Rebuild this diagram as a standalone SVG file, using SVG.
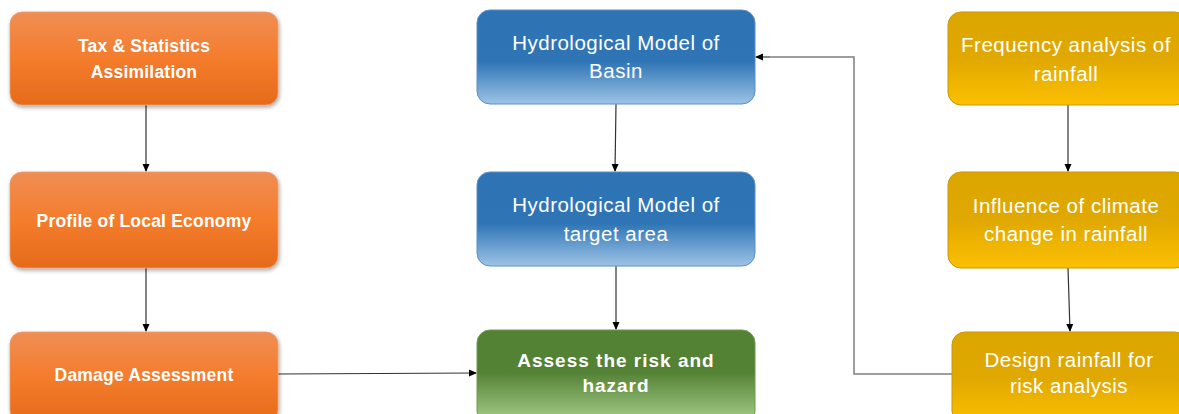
<svg xmlns="http://www.w3.org/2000/svg" width="1179" height="414" viewBox="0 0 1179 414">
<defs>
<linearGradient id="gOrange" x1="0" y1="0" x2="0" y2="1">
<stop offset="0" stop-color="#F08E55"/>
<stop offset="0.5" stop-color="#F47C2C"/>
<stop offset="1" stop-color="#E56B1A"/>
</linearGradient>
<linearGradient id="gBlue" x1="0" y1="0" x2="0" y2="1">
<stop offset="0" stop-color="#2E74B5"/>
<stop offset="0.55" stop-color="#2F75B6"/>
<stop offset="1" stop-color="#9DC3E6"/>
</linearGradient>
<linearGradient id="gGreen" x1="0" y1="0" x2="0" y2="1">
<stop offset="0" stop-color="#548235"/>
<stop offset="0.45" stop-color="#548235"/>
<stop offset="1" stop-color="#A9D18E"/>
</linearGradient>
<linearGradient id="gYellow" x1="0" y1="0" x2="0" y2="1">
<stop offset="0" stop-color="#DCA600"/>
<stop offset="0.5" stop-color="#E0A800"/>
<stop offset="1" stop-color="#FCC000"/>
</linearGradient>
<filter id="shadow" x="-10%" y="-10%" width="120%" height="130%">
<feGaussianBlur in="SourceAlpha" stdDeviation="2"/>
<feOffset dx="1" dy="2" result="b"/>
<feComponentTransfer><feFuncA type="linear" slope="0.35"/></feComponentTransfer>
<feMerge><feMergeNode/><feMergeNode in="SourceGraphic"/></feMerge>
</filter>
<marker id="arrow" markerWidth="8" markerHeight="8" refX="7" refY="4" orient="auto" markerUnits="userSpaceOnUse">
<path d="M0,0.5 L8,4 L0,7.5 z" fill="#000"/>
</marker>
</defs>
<style>
.orange{fill:url(#gOrange);stroke:#E8A070;stroke-width:0.8;filter:url(#shadow)}
.blue{fill:url(#gBlue);stroke:#5B8FC7;stroke-width:1}
.green{fill:url(#gGreen);stroke:#6E9A4E;stroke-width:1}
.yellow{fill:url(#gYellow);stroke:#C89A00;stroke-width:1}
.tOrange{font-family:"Liberation Sans",Arial,sans-serif;font-weight:bold;font-size:17.5px;letter-spacing:0.2px;fill:#fff;text-anchor:middle}
.tReg{font-family:"Liberation Sans",Arial,sans-serif;font-size:20.5px;letter-spacing:0.5px;fill:#fff;text-anchor:middle}
.tGreen{font-family:"Liberation Sans",Arial,sans-serif;font-weight:bold;font-size:19px;letter-spacing:1px;fill:#fff;text-anchor:middle}
.conn{fill:none;stroke:#333;stroke-width:1.2;marker-end:url(#arrow)}
.elbow{fill:none;stroke:#7F7F7F;stroke-width:1.5}
</style>

<g id="connectors">
<line class="conn" x1="146" y1="105" x2="146" y2="171"/>
<line class="conn" x1="146" y1="268" x2="146" y2="331"/>
<line class="conn" x1="278" y1="374" x2="476" y2="373"/>
<line class="conn" x1="616" y1="104" x2="615" y2="171"/>
<line class="conn" x1="616" y1="266" x2="616" y2="329"/>
<line class="conn" x1="1068" y1="105" x2="1068" y2="171"/>
<line class="conn" x1="1068" y1="268" x2="1070" y2="331"/>
<polyline class="elbow" points="952,374 854,374 854,57 770,57"/>
<line class="conn" x1="770" y1="57" x2="756" y2="57" style="stroke:#333"/>
</g>

<g id="tax">
<rect class="orange" x="10" y="12" width="268" height="93" rx="12"/>
<text class="tOrange" x="144" y="52">Tax &amp; Statistics</text>
<text class="tOrange" x="144" y="78">Assimilation</text>
</g>
<g id="profile">
<rect class="orange" x="10" y="172" width="268" height="96" rx="12"/>
<text class="tOrange" x="144" y="227">Profile of Local Economy</text>
</g>
<g id="damage">
<rect class="orange" x="10" y="332" width="268" height="90" rx="12"/>
<text class="tOrange" x="144" y="381">Damage Assessment</text>
</g>

<g id="basin">
<rect class="blue" x="477" y="10" width="278" height="94" rx="13"/>
<text class="tReg" x="616" y="50">Hydrological Model of</text>
<text class="tReg" x="616" y="78">Basin</text>
</g>
<g id="target">
<rect class="blue" x="477" y="172" width="278" height="94" rx="13"/>
<text class="tReg" x="616" y="212">Hydrological Model of</text>
<text class="tReg" x="616" y="241">target area</text>
</g>
<g id="assess">
<rect class="green" x="477" y="330" width="278" height="94" rx="13"/>
<text class="tGreen" x="616" y="367">Assess the risk and</text>
<text class="tGreen" x="616" y="392">hazard</text>
</g>

<g id="frequency">
<rect class="yellow" x="948" y="12" width="240" height="93" rx="13"/>
<text class="tReg" x="1066" y="52">Frequency analysis of</text>
<text class="tReg" x="1066" y="81">rainfall</text>
</g>
<g id="influence">
<rect class="yellow" x="948" y="172" width="240" height="96" rx="13"/>
<text class="tReg" x="1066" y="213">Influence of climate</text>
<text class="tReg" x="1066" y="241">change in rainfall</text>
</g>
<g id="design">
<rect class="yellow" x="952" y="332" width="236" height="92" rx="13"/>
<text class="tReg" x="1069" y="367">Design rainfall for</text>
<text class="tReg" x="1069" y="393">risk analysis</text>
</g>
</svg>
